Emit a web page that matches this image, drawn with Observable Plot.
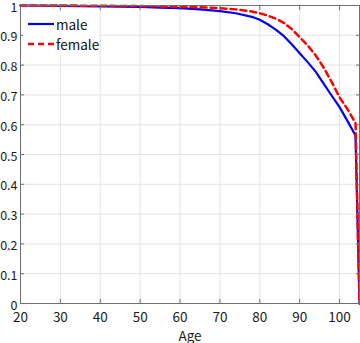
<!DOCTYPE html>
<html>
<head>
<meta charset="utf-8">
<script src="https://cdn.jsdelivr.net/npm/d3@7"></script>
<script src="https://cdn.jsdelivr.net/npm/@observablehq/plot@0.6"></script>
<style>
  html, body { margin: 0; padding: 0; background: #fff; }
  #wrap { position: relative; width: 360px; height: 343px; font-family: "Noto Sans CJK JP", "Noto Sans", sans-serif; }
  #legend { position: absolute; left: 23px; top: 13px; width: 76px; height: 42px; background: #fff; font-size: 13.5px; color: #111; }
  #legend .row { position: absolute; left: 0; height: 20px; display: flex; align-items: center; }
  #legend svg { display: block; margin-left: 5px; margin-right: 2px; }
</style>
</head>
<body>
<div id="wrap"></div>
<script>
const ages   = [20, 30, 40, 50, 55, 60, 65, 70, 74, 78, 80, 82, 84, 86, 88, 90, 92, 94, 96, 98, 100, 102, 104, 105];
const male   = [1.000, 0.999, 0.997, 0.995, 0.993, 0.991, 0.987, 0.981, 0.974, 0.962, 0.952, 0.937, 0.919, 0.898, 0.870, 0.840, 0.810, 0.778, 0.738, 0.698, 0.659, 0.612, 0.564, 0];
const female = [1.000, 1.000, 0.999, 0.998, 0.997, 0.996, 0.994, 0.991, 0.987, 0.980, 0.974, 0.966, 0.956, 0.942, 0.921, 0.894, 0.866, 0.833, 0.792, 0.744, 0.692, 0.652, 0.605, 0];
const xTicks = [20, 30, 40, 50, 60, 70, 80, 90, 100];
const yTicks = [0, 0.1, 0.2, 0.3, 0.4, 0.5, 0.6, 0.7, 0.8, 0.9, 1];
const seriesNames = ["male", "female"];
const seriesColors = ["#0000ff", "#ff0000"];

const rowsM = ages.map((a, i) => ({age: a, v: male[i], s: seriesNames[0]}));
const rowsF = ages.map((a, i) => ({age: a, v: female[i], s: seriesNames[1]}));

const axisColor = "#6e6e6e";
const chart = Plot.plot({
  width: 360,
  height: 343,
  marginLeft: 20,
  marginRight: 1,
  marginTop: 5,
  marginBottom: 40,
  style: {fontFamily: '"Noto Sans CJK JP", "Noto Sans", sans-serif', fontSize: "13.5px", color: "#1a1a1a", background: "#fff"},
  x: {domain: [20, 105]},
  y: {domain: [0, 1]},
  marks: [
    Plot.gridX(xTicks, {stroke: "#e3e3e3", strokeOpacity: 1}),
    Plot.gridY(yTicks, {stroke: "#e3e3e3", strokeOpacity: 1}),
    Plot.line(rowsM, {x: "age", y: "v", stroke: seriesColors[0], strokeWidth: 2.2}),
    Plot.line(rowsF, {x: "age", y: "v", stroke: seriesColors[1], strokeWidth: 2.5, strokeDasharray: "6,4"}),
    Plot.frame({stroke: axisColor}),
    Plot.axisX(xTicks, {anchor: "bottom", tickSize: 0, tickPadding: 9, label: "Age", labelAnchor: "center", labelArrow: "none", labelOffset: 37}),
    Plot.axisX(xTicks, {anchor: "bottom", tickSize: -4, text: null, stroke: axisColor, label: null}),
    Plot.axisX(xTicks, {anchor: "top", tickSize: -4, text: null, stroke: axisColor, label: null}),
    Plot.axisY(yTicks, {anchor: "left", tickSize: 0, tickPadding: 3, dy: 2, label: null, fontSize: 12.5, tickFormat: d => String(d)}),
    Plot.axisY(yTicks, {anchor: "left", tickSize: -4, text: null, stroke: axisColor, label: null}),
    Plot.axisY(yTicks, {anchor: "right", tickSize: -4, text: null, stroke: axisColor, label: null})
  ]
});

const wrap = document.getElementById("wrap");
wrap.appendChild(chart);

const legend = document.createElement("div");
legend.id = "legend";
seriesNames.forEach((name, i) => {
  const row = document.createElement("div");
  row.className = "row";
  row.style.top = (i * 20 + 1) + "px";
  const dash = i === 1 ? ' stroke-dasharray="6,4"' : '';
  const sw = i === 1 ? 2.5 : 2.2;
  row.innerHTML = `<svg width="26" height="6"><line x1="0" y1="3" x2="26" y2="3" stroke="${seriesColors[i]}" stroke-width="${sw}"${dash}/></svg><span>${name}</span>`;
  legend.appendChild(row);
});
wrap.appendChild(legend);
</script>
</body>
</html>
